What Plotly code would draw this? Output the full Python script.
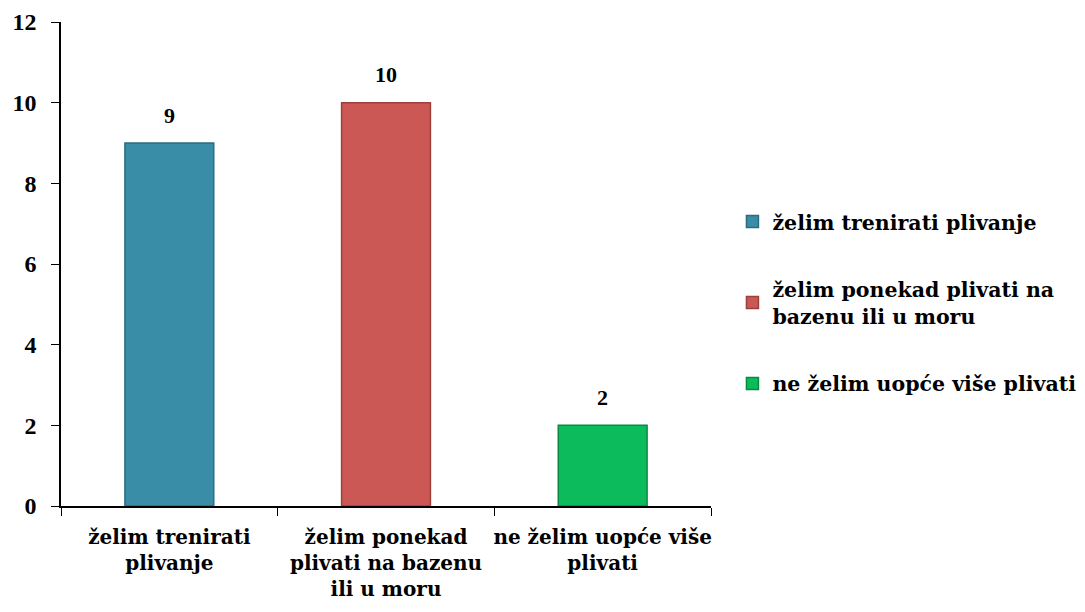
import plotly.graph_objects as go

categories = ["želim trenirati<br>plivanje",
              "želim ponekad<br>plivati na bazenu<br>ili u moru",
              "ne želim uopće više<br>plivati"]
series_names = ["želim trenirati plivanje",
                "želim ponekad plivati na<br>bazenu ili u moru",
                "ne želim uopće više plivati"]
values = [9, 10, 2]
colors = ["#3A8DA6", "#CC5855", "#0CBB5C"]
edge_colors = ["#2A6C80", "#9E3F3C", "#088A44"]
y_ticks = [0, 2, 4, 6, 8, 10, 12]

NUMFONT = "Liberation Serif"
TXTFONT = "DejaVu Serif"

fig = go.Figure()
for i, (cat, name, v) in enumerate(zip(categories, series_names, values)):
    fig.add_trace(go.Bar(
        x=[cat], y=[v], name=f"<b>{name}</b>", width=0.41,
        marker=dict(color=colors[i], line=dict(color=edge_colors[i], width=1.5)),
        legendgroup=str(i),
    ))
    fig.add_annotation(x=cat, y=v, yshift=28, text=f"<b>{v}</b>", showarrow=False,
                       font=dict(family=NUMFONT, size=22, color="black"))

fig.update_layout(
    width=1085, height=612,
    margin=dict(l=53, r=370, t=14, b=114),
    paper_bgcolor="white", plot_bgcolor="white",
    barmode="overlay",
    font=dict(family=TXTFONT, size=20, color="black"),
    showlegend=True,
    legend=dict(x=1.033, y=0.42, xanchor="left", yanchor="middle",
                font=dict(family=TXTFONT, size=20.5, color="black"),
                tracegroupgap=38, itemwidth=30,
                bgcolor="rgba(0,0,0,0)"),
    xaxis=dict(type="category", categoryorder="array", categoryarray=categories,
               showline=True, linecolor="black", linewidth=1.5, automargin=False,
               ticks="outside", tickson="boundaries", ticklen=8, tickcolor="black",
               tickfont=dict(family=TXTFONT, size=20, color="black"),
               tickangle=0, ticklabelstandoff=12,
               showgrid=False, tickprefix="<b>", ticksuffix="</b>"),
    yaxis=dict(range=[0, 12], tickvals=y_ticks, ticktext=[f"<b>{t}</b>" for t in y_ticks],
               showline=True, linecolor="black", linewidth=1.5, automargin=False,
               ticks="outside", ticklen=8, tickcolor="black",
               tickfont=dict(family=NUMFONT, size=24, color="black"),
               ticklabelstandoff=10,
               showgrid=False, zeroline=False),
)
fig.write_html("out.html")
